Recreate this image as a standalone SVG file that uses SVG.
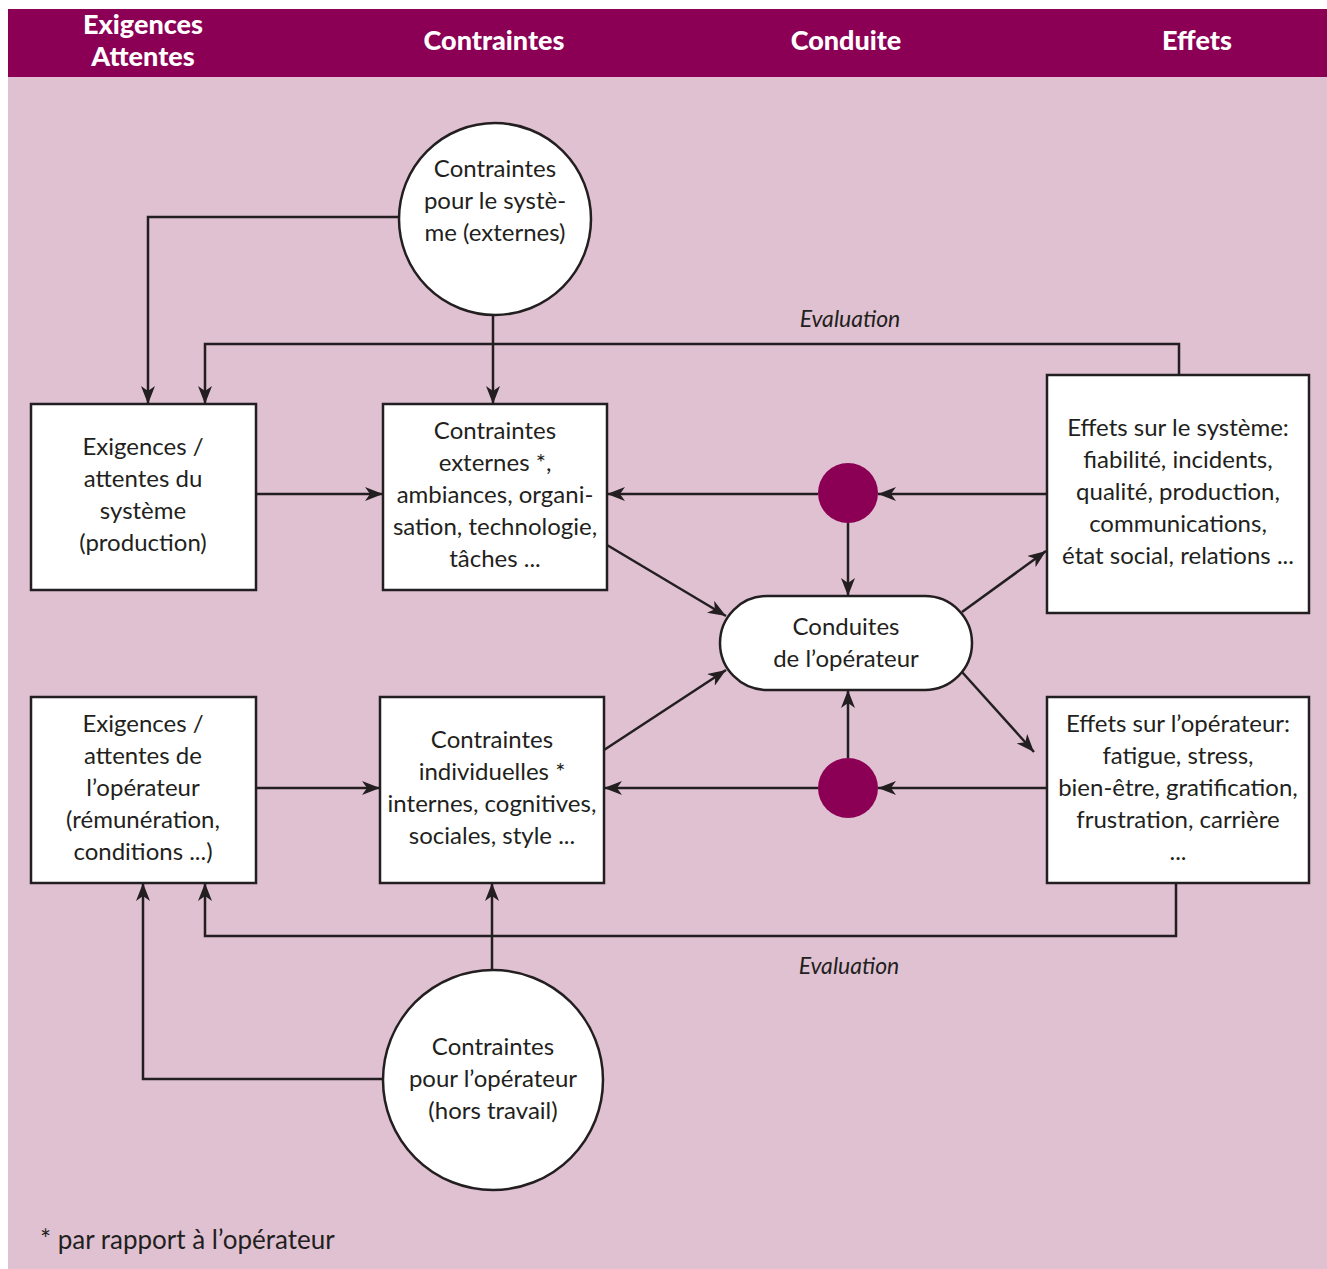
<svg xmlns="http://www.w3.org/2000/svg" width="1327" height="1269" viewBox="0 0 1327 1269">
<defs>
<marker id="ah" markerUnits="userSpaceOnUse" markerWidth="20" markerHeight="14" refX="18" refY="7" orient="auto">
<path d="M0,0 L18,7 L0,14 L5,7 z" fill="#231F20"/>
</marker>
<style>
.hdr{font-family:"Lato","Liberation Sans",sans-serif;font-weight:900;font-size:27px;fill:#fff;text-anchor:middle}
.t{font-family:"Lato","Liberation Sans",sans-serif;font-size:24px;fill:#231F20;text-anchor:middle;dominant-baseline:central}
.ev{font-family:"Lato","Liberation Sans",sans-serif;font-style:italic;font-size:23px;fill:#231F20;text-anchor:middle;dominant-baseline:central}
.box{fill:#fff;stroke:#231F20;stroke-width:2.5}
.dot{fill:#8B0055}
.c{fill:none;stroke:#231F20;stroke-width:2.5;marker-end:url(#ah)}
</style>
</defs>
<rect x="0" y="0" width="1327" height="1269" fill="#fff"/>
<rect x="8" y="77" width="1319" height="1192" fill="#E0C1D2"/>
<g id="header">
<rect x="8" y="9" width="1319" height="68" fill="#8B0055"/>
<text class="hdr" x="143" y="34">Exigences</text>
<text class="hdr" x="143" y="66">Attentes</text>
<text class="hdr" x="494" y="50">Contraintes</text>
<text class="hdr" x="846" y="50">Conduite</text>
<text class="hdr" x="1197" y="50">Effets</text>
</g>
<g id="connectors">
<path class="c" d="M399,217 H148 V404"/>
<path class="c" d="M493,316 V404"/>
<path class="c" d="M1179,375 V344 H205 V404"/>
<path class="c" d="M256,494 H383"/>
<path class="c" d="M1047,494 H878"/>
<path class="c" d="M818,494 H607"/>
<path class="c" d="M848,523 V596"/>
<path class="c" d="M607,545 L726,616"/>
<path class="c" d="M962,612 L1046,551"/>
<path class="c" d="M962,672 L1034,752"/>
<path class="c" d="M604,750 L726,670"/>
<path class="c" d="M1047,788 H878"/>
<path class="c" d="M818,788 H604"/>
<path class="c" d="M848,758 V690"/>
<path class="c" d="M256,788 H380"/>
<path class="c" d="M492,970 V883"/>
<path class="c" d="M1176,883 V936 H205 V883"/>
<path class="c" d="M383,1079 H143 V883"/>
<text class="ev" x="850" y="318">Evaluation</text>
<text class="ev" x="849" y="965">Evaluation</text>
</g>
<g id="n-circle-systeme">
<circle class="box" cx="495" cy="219" r="96"/>
<text class="t" x="495" y="167">Contraintes</text>
<text class="t" x="495" y="199">pour le systè-</text>
<text class="t" x="495" y="231">me (externes)</text>
</g>
<g id="n-exig-systeme">
<rect class="box" x="31" y="404" width="225" height="186"/>
<text class="t" x="143" y="445">Exigences /</text>
<text class="t" x="143" y="477">attentes du</text>
<text class="t" x="143" y="509">système</text>
<text class="t" x="143" y="541">(production)</text>
</g>
<g id="n-contr-ext">
<rect class="box" x="383" y="404" width="224" height="186"/>
<text class="t" x="495" y="429">Contraintes</text>
<text class="t" x="495" y="461">externes *,</text>
<text class="t" x="495" y="493">ambiances, organi-</text>
<text class="t" x="495" y="525">sation, technologie,</text>
<text class="t" x="495" y="557">tâches ...</text>
</g>
<g id="n-effets-systeme">
<rect class="box" x="1047" y="375" width="262" height="238"/>
<text class="t" x="1178" y="426">Effets sur le système:</text>
<text class="t" x="1178" y="458">fiabilité, incidents,</text>
<text class="t" x="1178" y="490">qualité, production,</text>
<text class="t" x="1178" y="522">communications,</text>
<text class="t" x="1178" y="554">état social, relations ...</text>
</g>
<g id="n-dot-top"><circle class="dot" cx="848" cy="493" r="30"/></g>
<g id="n-conduites">
<rect class="box" x="720" y="596" width="252" height="94" rx="47" ry="47"/>
<text class="t" x="846" y="625">Conduites</text>
<text class="t" x="846" y="657">de l’opérateur</text>
</g>
<g id="n-dot-bottom"><circle class="dot" cx="848" cy="788" r="30"/></g>
<g id="n-exig-operateur">
<rect class="box" x="31" y="697" width="225" height="186"/>
<text class="t" x="143" y="722">Exigences /</text>
<text class="t" x="143" y="754">attentes de</text>
<text class="t" x="143" y="786">l’opérateur</text>
<text class="t" x="143" y="818">(rémunération,</text>
<text class="t" x="143" y="850">conditions ...)</text>
</g>
<g id="n-contr-indiv">
<rect class="box" x="380" y="697" width="224" height="186"/>
<text class="t" x="492" y="738">Contraintes</text>
<text class="t" x="492" y="770">individuelles *</text>
<text class="t" x="492" y="802">internes, cognitives,</text>
<text class="t" x="492" y="834">sociales, style ...</text>
</g>
<g id="n-effets-operateur">
<rect class="box" x="1047" y="697" width="262" height="186"/>
<text class="t" x="1178" y="722">Effets sur l’opérateur:</text>
<text class="t" x="1178" y="754">fatigue, stress,</text>
<text class="t" x="1178" y="786">bien-être, gratification,</text>
<text class="t" x="1178" y="818">frustration, carrière</text>
<text class="t" x="1178" y="850">...</text>
</g>
<g id="n-circle-operateur">
<circle class="box" cx="493" cy="1080" r="110"/>
<text class="t" x="493" y="1045">Contraintes</text>
<text class="t" x="493" y="1077">pour l’opérateur</text>
<text class="t" x="493" y="1109">(hors travail)</text>
</g>
<text class="t" x="40" y="1239" style="text-anchor:start;font-size:26px">* par rapport à l’opérateur</text>
</svg>
